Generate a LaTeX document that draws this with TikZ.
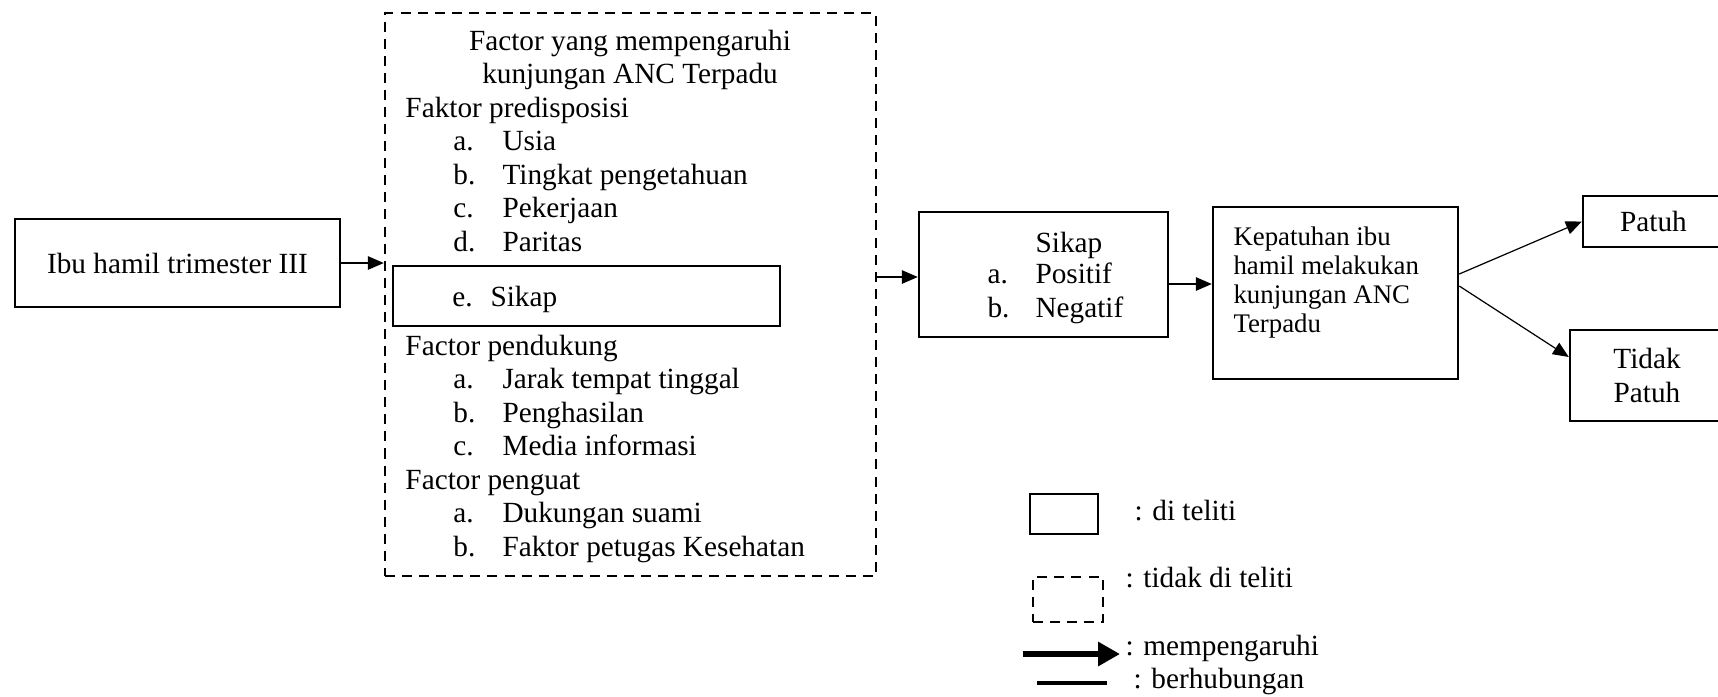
\documentclass[tikz,border=0pt]{standalone}
\usepackage{fontspec}
\setmainfont{Liberation Serif}
\usetikzlibrary{arrows.meta}
\begin{document}
\begin{tikzpicture}[x=0.41pt,y=-0.41pt,
  box/.style={draw, line width=1pt, inner sep=0pt, align=center, font=\fontsize{12}{13.8}\selectfont},
  dbox/.style={draw, line width=1pt, dash pattern=on 4.1pt off 2.9pt, inner sep=0pt},
  txt/.style={inner sep=0pt, anchor=base west, font=\fontsize{12}{13.8}\selectfont},
  ctxt/.style={txt, anchor=base},
  ktxt/.style={txt, font=\fontsize{11}{12}\selectfont},
  arr/.style={line width=0.5pt, -{Triangle[length=6.5pt,width=5.5pt]}}]
\useasboundingbox (0,0) rectangle (1718,696);

% main boxes
\node[box, minimum width=133.25pt, minimum height=36.08pt] (ibu) at (177.5,263) {Ibu hamil trimester III};
\node[dbox, minimum width=201.31pt, minimum height=230.83pt] (fw) at (630.5,294.5) {};
\node[box, minimum width=158.67pt, minimum height=24.6pt] (esik) at (586.5,296) {};
\node[box, minimum width=102.09pt, minimum height=51.25pt] (sik) at (1043.5,274.5) {};
\node[box, minimum width=100.45pt, minimum height=70.52pt] (kep) at (1335.5,293) {};
\node[box, minimum width=57.81pt, minimum height=20.91pt] (patuh) at (1653.5,221.5) {Patuh};
\node[box, minimum width=63.14pt, minimum height=37.31pt] (tidak) at (1647,375.5) {Tidak\\Patuh};

% dashed box text
\node[ctxt] (t1) at (630,50) {Factor yang mempengaruhi};
\node[ctxt] (t2) at (630,83.5) {kunjungan ANC Terpadu};
\node[txt] (h1) at (405,117) {Faktor predisposisi};
\node[txt] (h1a) at (453,150.5) {\makebox[20.1pt][l]{a.}Usia};
\node[txt] (h1b) at (453,184) {\makebox[20.1pt][l]{b.}Tingkat pengetahuan};
\node[txt] (h1c) at (453,217.5) {\makebox[20.1pt][l]{c.}Pekerjaan};
\node[txt] (h1d) at (453,251) {\makebox[20.1pt][l]{d.}Paritas};
\node[txt] (h1e) at (452,306) {\makebox[15.6pt][l]{e.}Sikap};
\node[txt] (h2) at (405,355) {Factor pendukung};
\node[txt] (h2a) at (453,388.5) {\makebox[20.1pt][l]{a.}Jarak tempat tinggal};
\node[txt] (h2b) at (453,422) {\makebox[20.1pt][l]{b.}Penghasilan};
\node[txt] (h2c) at (453,455.5) {\makebox[20.1pt][l]{c.}Media informasi};
\node[txt] (h3) at (405,489) {Factor penguat};
\node[txt] (h3a) at (453,522.5) {\makebox[20.1pt][l]{a.}Dukungan suami};
\node[txt] (h3b) at (453,556) {\makebox[20.1pt][l]{b.}Faktor petugas Kesehatan};

% sikap box text
\node[ctxt] (s1) at (1069,252) {Sikap};
\node[txt] (s2) at (987,283) {\makebox[19.7pt][l]{a.}Positif};
\node[txt] (s3) at (987,317) {\makebox[19.7pt][l]{b.}Negatif};

% kepatuhan text
\node[ktxt] (k1) at (1233,245) {Kepatuhan ibu};
\node[ktxt] (k2) at (1233,274) {hamil melakukan};
\node[ktxt] (k3) at (1233,303) {kunjungan ANC};
\node[ktxt] (k4) at (1233,332) {Terpadu};

% connectors
\draw[arr] (ibu.east) -- (fw.west |- ibu.east);
\draw[arr] (fw.east |- 0,277) -- (sik.west |- 0,277);
\draw[arr] (sik.east |- 0,284) -- (kep.west |- 0,284);
\draw[arr] (kep.east |- 0,274) -- (patuh.west);
\draw[arr] (kep.east |- 0,286) -- (tidak.west |- 0,357);

% legend
\node[box, minimum width=27.88pt, minimum height=16.4pt] (lg1) at (1064,514) {};
\node[txt] (lg1t) at (1134,520) {: di teliti};
\node[dbox, minimum width=28.7pt, minimum height=18.45pt] (lg2) at (1068,599.5) {};
\node[txt] (lg2t) at (1125,587) {: tidak di teliti};
\coordinate (lg3a) at (1023,654);
\coordinate (lg3b) at (1120,654);
\draw[line width=2.6pt, -{Triangle[length=9pt,width=9.5pt]}] (lg3a) -- (lg3b);
\node[txt] (lg3t) at (1125,655) {: mempengaruhi};
\coordinate (lg4a) at (1037,683);
\coordinate (lg4b) at (1107,683);
\draw[line width=2pt] (lg4a) -- (lg4b);
\node[txt] (lg4t) at (1133,688) {: berhubungan};
\end{tikzpicture}
\end{document}
